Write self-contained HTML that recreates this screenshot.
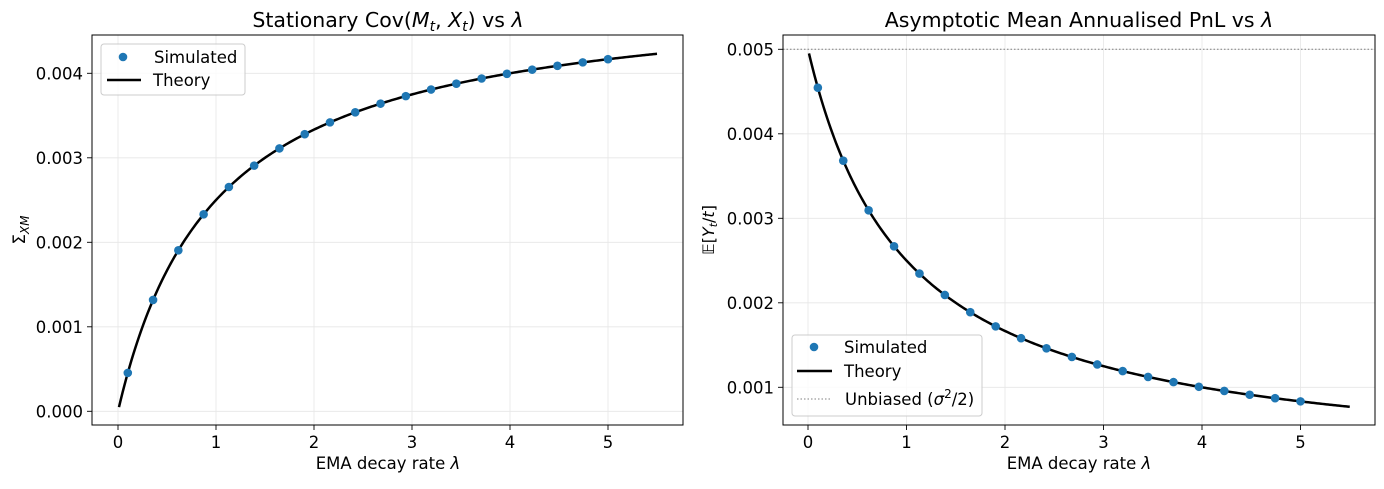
<!DOCTYPE html>
<html><head><meta charset="utf-8"><style>
body{margin:0;background:#fff;}
svg text{font-family:"DejaVu Sans","Liberation Sans",sans-serif;fill:#000;}
</style></head><body>
<svg id="s" width="1384" height="484" xmlns="http://www.w3.org/2000/svg">
<rect width="1384" height="484" fill="#fff"/>
<text x="388" y="27" font-size="20.5" text-anchor="middle">Stationary Cov(<tspan font-style="italic">M<tspan font-size="14" dy="4">t</tspan></tspan><tspan dy="-4">, </tspan><tspan font-style="italic">X<tspan font-size="14" dy="4">t</tspan></tspan><tspan dy="-4">) vs </tspan><tspan font-style="italic">λ</tspan></text>
<text x="1079" y="27" font-size="20.5" text-anchor="middle">Asymptotic Mean Annualised PnL vs <tspan font-style="italic">λ</tspan></text>
<text x="388" y="469" font-size="16.5" text-anchor="middle">EMA decay rate <tspan font-style="italic">λ</tspan></text>
<text x="1079" y="469" font-size="16.5" text-anchor="middle">EMA decay rate <tspan font-style="italic">λ</tspan></text>
<text transform="translate(25,230) rotate(-90)" font-size="16.5" text-anchor="middle">Σ<tspan font-size="12" dy="4" font-style="italic">XM</tspan></text>
<text transform="translate(714,230) rotate(-90)" font-size="16" text-anchor="middle">𝔼[<tspan font-style="italic">Y</tspan><tspan font-size="11" dy="3" font-style="italic">t</tspan><tspan dy="-3">/</tspan><tspan font-style="italic">t</tspan>]</text>
<g id="g"></g>
</svg>
<script>
var g=document.getElementById('g'),h='';
function L(x1,y1,x2,y2,st){h+='<line x1="'+x1+'" y1="'+y1+'" x2="'+x2+'" y2="'+y2+'" '+st+'/>';}
function T(x,y,t,a){h+='<text x="'+x+'" y="'+y+'" font-size="16.5" text-anchor="'+(a||'middle')+'">'+t+'</text>';}
function panel(ax,x0,sx,y0,yref,yticks,f,left,top,right,bottom){
  var X=function(l){return x0+sx*l},Y=function(v){return y0-84.5*(v*1000-yref)};
  for(var i=0;i<=5;i++){var x=X(i);L(x,top,x,bottom,'stroke="#e6e6e6" stroke-width="0.8"');L(x,bottom,x,bottom+5,'stroke="#000" stroke-width="0.9"');T(x,bottom+23,i);}
  yticks.forEach(function(v){var y=Y(v);L(left,y,right,y,'stroke="#e6e6e6" stroke-width="0.8"');L(left-5,y,left,y,'stroke="#000" stroke-width="0.9"');T(left-9,y+6,v.toFixed(3),'end');});
  if(ax==1){L(left,Y(0.005),right,Y(0.005),'stroke="#808080" stroke-width="1" stroke-dasharray="1.5,2"');}
  var p='';for(var k=0;k<=300;k++){var l=0.01+k*(5.49/300);p+=(k?'L':'M')+X(l).toFixed(2)+','+Y(f(l)).toFixed(2);}
  h+='<path d="'+p+'" fill="none" stroke="#000" stroke-width="2.5"/>';
  for(var k=0;k<20;k++){var l=0.1+k*4.9/19;h+='<circle cx="'+X(l)+'" cy="'+Y(f(l))+'" r="4.3" fill="#1f77b4"/>';}
  h+='<rect x="'+left+'" y="'+top+'" width="'+(right-left)+'" height="'+(bottom-top)+'" fill="none" stroke="#000" stroke-width="1"/>';
}
panel(0,118,98,411.3,0,[0,0.001,0.002,0.003,0.004],function(l){return 0.005*l/(1+l)},92,35,683,425);
panel(1,808,98.5,387.3,1,[0.001,0.002,0.003,0.004,0.005],function(l){return 0.005/(1+l)},783,35,1375,425);
h+='<rect x="101" y="44" width="144" height="51" rx="3" fill="#fff" fill-opacity="0.8" stroke="#ccc"/>';
h+='<circle cx="123" cy="57" r="4.3" fill="#1f77b4"/>';T(154,63,'Simulated','start');
L(107,80,141,80,'stroke="#000" stroke-width="2.5"');T(153,86,'Theory','start');
h+='<rect x="792" y="335" width="190" height="81" rx="3" fill="#fff" fill-opacity="0.8" stroke="#ccc"/>';
h+='<circle cx="814" cy="347" r="4.3" fill="#1f77b4"/>';T(844,353,'Simulated','start');
L(797,371,832,371,'stroke="#000" stroke-width="2.5"');T(844,377,'Theory','start');
L(797,399,832,399,'stroke="#808080" stroke-width="1" stroke-dasharray="1.5,2"');
h+='<text x="845" y="405" font-size="16.5">Unbiased (<tspan font-style="italic">σ</tspan><tspan font-size="12" dy="-7">2</tspan><tspan dy="7">/2)</tspan></text>';
g.innerHTML=h;
</script>
</body></html>
